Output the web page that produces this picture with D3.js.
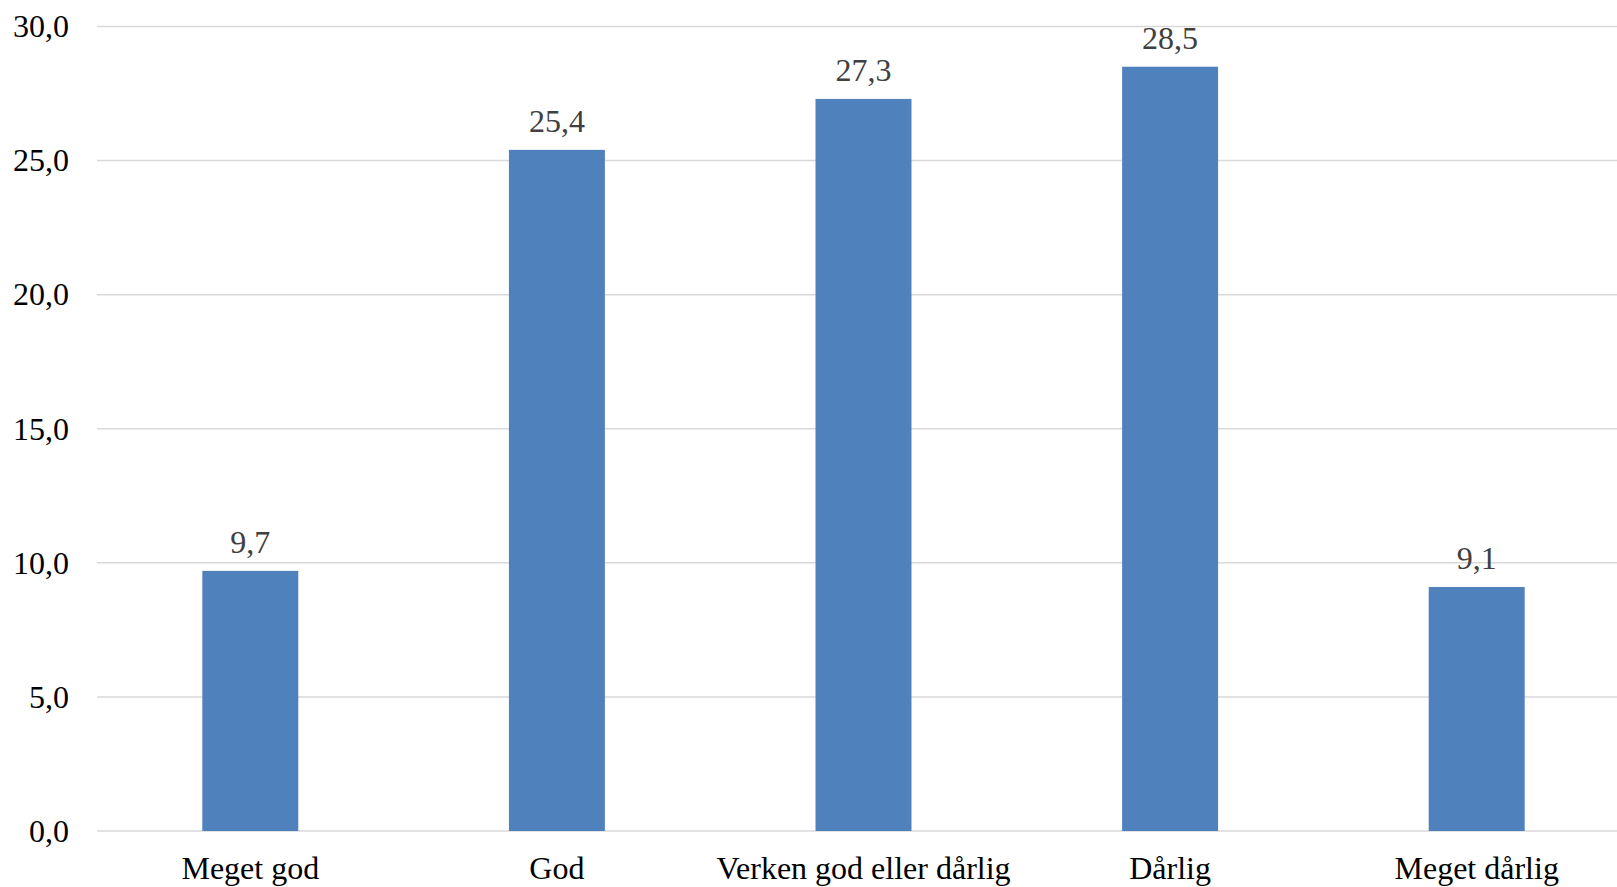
<!DOCTYPE html>
<html>
<head>
<meta charset="utf-8">
<script src="https://cdn.jsdelivr.net/npm/d3@7"></script>
<style>
  html, body { margin: 0; padding: 0; background: #fff; }
  svg { display: block; }
</style>
</head>
<body>
<svg id="chart" width="1617" height="887"></svg>
<script>
const categories = ["Meget god", "God", "Verken god eller dårlig", "Dårlig", "Meget dårlig"];
const values = [9.7, 25.4, 27.3, 28.5, 9.1];
const yTicks = [0, 5, 10, 15, 20, 25, 30];

const W = 1617, H = 887;
const svg = d3.select("#chart");
const fmt = v => d3.format(".1f")(v).replace(".", ",");
const FONT = "'Liberation Serif', 'Times New Roman', serif";

const x = d3.scaleBand().domain(categories).range([97, 1630])
  .paddingInner(0.687).paddingOuter(0.3435);
const y = d3.scaleLinear().domain([0, 30]).range([831, 26.5]);

// grid lines
svg.append("g").selectAll("line").data(yTicks).join("line")
  .attr("x1", 97).attr("x2", W)
  .attr("y1", d => y(d)).attr("y2", d => y(d))
  .attr("stroke", "#d9d9d9").attr("stroke-width", 1.5);

// y axis labels
const yAxis = d3.axisLeft(y).tickValues(yTicks).tickFormat(fmt).tickSize(0).tickPadding(0);
const ya = svg.append("g").attr("transform", "translate(69,0)").call(yAxis);
ya.select(".domain").remove();
ya.selectAll("text")
  .attr("font-family", FONT)
  .attr("font-size", 32).attr("fill", "#000").attr("dy", "0.32em");

// bars
svg.append("g").selectAll("rect").data(values).join("rect")
  .attr("x", (d, i) => x(categories[i]))
  .attr("width", x.bandwidth())
  .attr("y", d => y(d))
  .attr("height", d => y(0) - y(d))
  .attr("fill", "#4f81bd");

// data labels
svg.append("g").selectAll("text").data(values).join("text")
  .attr("x", (d, i) => x(categories[i]) + x.bandwidth() / 2)
  .attr("y", d => y(d) - 18)
  .attr("text-anchor", "middle")
  .attr("font-family", FONT)
  .attr("font-size", 32).attr("fill", "#404040")
  .text(fmt);

// x axis labels
const xAxis = d3.axisBottom(x).tickSize(0).tickPadding(0);
const xa = svg.append("g").attr("transform", "translate(0,831)").call(xAxis);
xa.select(".domain").remove();
xa.selectAll("text")
  .attr("font-family", FONT)
  .attr("font-size", 32).attr("fill", "#000")
  .attr("dy", null).attr("y", 47.5);
</script>
</body>
</html>
